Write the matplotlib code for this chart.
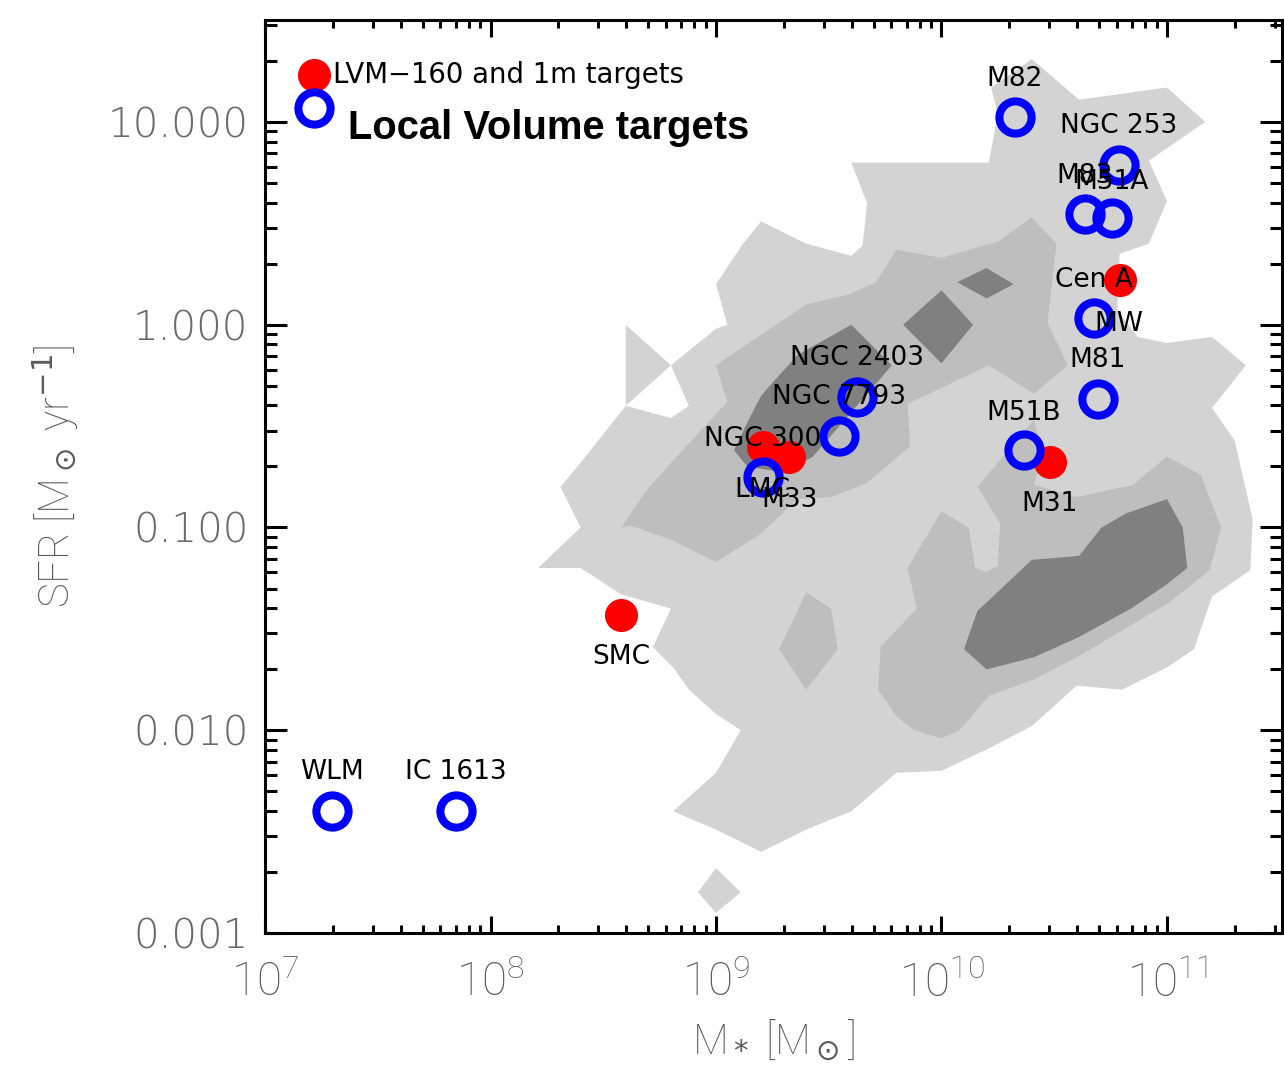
import numpy as np
import matplotlib
matplotlib.use('Agg')
import matplotlib.pyplot as plt
from matplotlib.ticker import FixedLocator, FixedFormatter, FuncFormatter, LogLocator

# galaxies: stellar mass [Msun], SFR [Msun/yr]
red_names = ['SMC', 'NGC 300', 'M33', 'Cen A', 'M31']
red_mass = [3.8e8, 1.61e9, 2.11e9, 6.19e10, 3.03e10]
red_sfr = [0.037, 0.249, 0.223, 1.66, 0.210]

blue_names = ['WLM', 'IC 1613', 'LMC', 'NGC 7793', 'NGC 2403', 'M51B', 'M81',
              'MW', 'M83', 'M51A', 'NGC 253', 'M82']
blue_mass = [1.98e7, 7.0e7, 1.61e9, 3.51e9, 4.22e9, 2.32e10, 4.94e10,
             4.74e10, 4.33e10, 5.70e10, 6.12e10, 2.12e10]
blue_sfr = [0.0040, 0.0040, 0.177, 0.282, 0.44, 0.241, 0.43,
            1.08, 3.52, 3.37, 6.14, 10.6]

# label offsets (points) from each galaxy
red_off = [(0, -30), (0, 6), (0, -31), (-19, 0), (0, -30)]
blue_off = [(0, 28), (0, 28), (0, -9), (0, 28), (0, 28), (0, 27), (0, 28),
            (18, -4), (0, 27), (0, 26), (0, 28), (0, 27)]

# density contours of the comparison sample, (log M*, log SFR) outlines
level1_main = [(10.40, 1.31), (10.61, 1.11), (11.00, 1.17), (11.17, 1.00), (10.92, 0.81),
               (11.00, 0.61), (10.92, 0.40), (10.79, 0.35), (10.78, 0.07), (10.87, -0.06),
               (11.00, -0.09), (11.20, -0.06), (11.35, -0.20), (11.20, -0.41), (11.30, -0.57),
               (11.38, -0.96), (11.37, -1.21), (11.20, -1.34), (11.12, -1.60), (11.00, -1.69),
               (10.80, -1.80), (10.60, -1.78), (10.40, -1.98), (10.21, -2.09), (10.00, -2.20),
               (9.80, -2.21), (9.60, -2.40), (9.40, -2.49), (9.20, -2.60), (9.00, -2.49),
               (8.81, -2.40), (9.00, -2.21), (9.11, -2.00), (9.00, -1.92), (8.88, -1.80),
               (8.81, -1.69), (8.72, -1.59), (8.80, -1.40), (8.58, -1.33), (8.40, -1.20),
               (8.21, -1.20), (8.40, -1.00), (8.31, -0.80), (8.40, -0.68), (8.60, -0.40),
               (8.80, -0.46), (8.88, -0.40), (8.80, -0.20), (9.00, -0.02), (9.05, 0.00),
               (9.00, 0.20), (9.12, 0.40), (9.20, 0.51), (9.40, 0.40), (9.60, 0.34),
               (9.65, 0.39), (9.67, 0.60), (9.60, 0.80), (10.21, 0.80), (10.25, 1.04),
               (10.22, 1.17)]
level1_spike = [(8.60, 0.00), (8.80, -0.20), (8.60, -0.40)]
level1_low = [(9.00, -2.68), (9.11, -2.80), (9.00, -2.90), (8.92, -2.80)]

level2_band = [(8.58, -1.00), (8.69, -0.82), (8.81, -0.67), (9.05, -0.38), (9.00, -0.20),
               (9.40, 0.10), (9.59, 0.15), (9.71, 0.21), (9.80, 0.37), (10.00, 0.33),
               (10.25, 0.41), (10.40, 0.53), (10.51, 0.40), (10.47, 0.01), (10.56, -0.20),
               (10.41, -0.34), (10.21, -0.20), (9.85, -0.39), (9.86, -0.60), (9.67, -0.78),
               (9.51, -0.85), (9.36, -0.86), (9.20, -1.03), (9.00, -1.17), (8.80, -1.06),
               (8.62, -0.99)]
level2_right = [(10.00, -0.92), (10.12, -1.00), (10.15, -1.20), (10.20, -1.22), (10.25, -1.19),
                (10.26, -0.98), (10.16, -0.80), (10.41, -0.47), (10.45, -0.64), (10.41, -0.79),
                (10.60, -0.85), (10.85, -0.79), (11.00, -0.65), (11.15, -0.74), (11.24, -1.00),
                (11.19, -1.21), (11.01, -1.37), (10.60, -1.64), (10.41, -1.75), (10.21, -1.83),
                (10.08, -2.00), (10.00, -2.04), (9.88, -2.00), (9.80, -1.93), (9.72, -1.80),
                (9.73, -1.59), (9.89, -1.40), (9.85, -1.20)]
level2_island = [(9.40, -1.32), (9.51, -1.40), (9.54, -1.60), (9.40, -1.80), (9.28, -1.60)]

level3_band = [(9.20, -0.35), (9.36, -0.15), (9.60, 0.00), (9.78, -0.20), (9.43, -0.65),
               (9.31, -0.73), (9.14, -0.70), (9.08, -0.62), (9.14, -0.48)]
level3_d1 = [(9.83, 0.00), (10.00, 0.17), (10.14, 0.00), (10.00, -0.19)]
level3_d2 = [(10.07, 0.21), (10.20, 0.28), (10.32, 0.20), (10.20, 0.13)]
level3_right = [(11.00, -0.86), (11.07, -1.00), (11.09, -1.20), (11.00, -1.28), (10.84, -1.40),
                (10.61, -1.54), (10.41, -1.64), (10.20, -1.70), (10.10, -1.60), (10.16, -1.41),
                (10.20, -1.37), (10.40, -1.16), (10.61, -1.14), (10.71, -1.00), (10.82, -0.93)]

y_ticks = [0.001, 0.01, 0.1, 1.0, 10.0]
y_labels = ['0.001', '0.010', '0.100', '1.000', '10.000']
x_ticks = [1e7, 1e8, 1e9, 1e10, 1e11]

plt.rcParams['font.family'] = ['DejaVu Sans']
fig = plt.figure(figsize=(12.84, 10.66), dpi=100)
ax = fig.add_axes([0.2064, 0.1248, 0.7920, 0.8564])
ax.set_xscale('log')
ax.set_yscale('log')

light, mid, dark = '#d3d3d3', '#bebebe', '#808080'


def poly(pts, col):
    lm = np.array([p[0] for p in pts])
    ls = np.array([p[1] for p in pts])
    ax.fill(10**lm, 10**ls, color=col, lw=0, zorder=1)


for p in [level1_main, level1_spike, level1_low]:
    poly(p, light)
for p in [level2_band, level2_right, level2_island]:
    poly(p, mid)
for p in [level3_band, level3_d1, level3_d2, level3_right]:
    poly(p, dark)

ax.plot(red_mass, red_sfr, 'o', ms=23.8, mfc='red', mec='none', zorder=3)
ax.plot(blue_mass, blue_sfr, 'o', ms=23.2, mfc='none', mec='blue', mew=5.8, zorder=4)

lab_font = dict(fontsize=19, family='DejaVu Sans', color='black', ha='center', va='center', zorder=6)
for n, x, y, o in zip(red_names, red_mass, red_sfr, red_off):
    ax.annotate(n, (x, y), xytext=o, textcoords='offset points', **lab_font)
for n, x, y, o in zip(blue_names, blue_mass, blue_sfr, blue_off):
    ax.annotate(n, (x, y), xytext=o, textcoords='offset points', **lab_font)

# legend
ax.plot([0.048], [0.940], 'o', ms=23.8, mfc='red', mec='none', transform=ax.transAxes,
        clip_on=False, zorder=5)
ax.plot([0.048], [0.904], 'o', ms=23.2, mfc='none', mec='blue', mew=5.8,
        transform=ax.transAxes, clip_on=False, zorder=5)
ax.text(0.0669, 0.940, 'LVM\u2212160 and 1m targets', transform=ax.transAxes,
        fontsize=19.8, ha='left', va='center')
ax.text(0.0816, 0.882, 'Local Volume targets', transform=ax.transAxes,
        fontsize=28.8, fontweight='bold', family='Liberation Sans', ha='left', va='center')

ax.set_xlim(1e7, 10**11.51)
ax.set_ylim(1e-3, 10**1.503)

ax.xaxis.set_major_locator(FixedLocator(x_ticks))
ax.xaxis.set_major_formatter(FuncFormatter(lambda v, p: r'$\mathregular{10^{%d}}$' % round(np.log10(v))))
ax.xaxis.set_minor_locator(LogLocator(base=10, subs=np.arange(2, 10), numticks=20))
ax.yaxis.set_major_locator(FixedLocator(y_ticks))
ax.yaxis.set_major_formatter(FixedFormatter(y_labels))
ax.yaxis.set_minor_locator(LogLocator(base=10, subs=np.arange(2, 10), numticks=20))
ax.xaxis.set_minor_formatter(FuncFormatter(lambda v, p: ''))
ax.yaxis.set_minor_formatter(FuncFormatter(lambda v, p: ''))

tick_col = '#5a5a5a'
ax.tick_params(which='both', direction='in', top=True, right=True, width=2.2, color='black')
ax.tick_params(axis='x', which='major', length=12.5, pad=20, labelsize=33, labelcolor=tick_col)
ax.tick_params(axis='x', which='minor', length=6)
ax.tick_params(axis='y', which='major', length=16, pad=12, labelsize=29, labelcolor='#6a6a6a')
ax.tick_params(axis='y', which='minor', length=8.5)
for lab in ax.get_xticklabels():
    lab.set_fontfamily('Roboto')
    lab.set_fontweight('light')
for lab in ax.get_yticklabels():
    lab.set_fontfamily('DejaVu Sans')
    lab.set_fontweight(200)
for s in ax.spines.values():
    s.set_linewidth(2.2)

ax.set_xlabel(r'M$_*$ [M$_\odot$]', fontsize=30, color=tick_col, family='Roboto',
              fontweight='light', labelpad=8)
ax.set_ylabel(r'SFR [M$_\odot$ yr$^{-1}$]', fontsize=30, color=tick_col, family='Roboto',
              fontweight='light', labelpad=19)

fig.savefig('out.png', dpi=100)
